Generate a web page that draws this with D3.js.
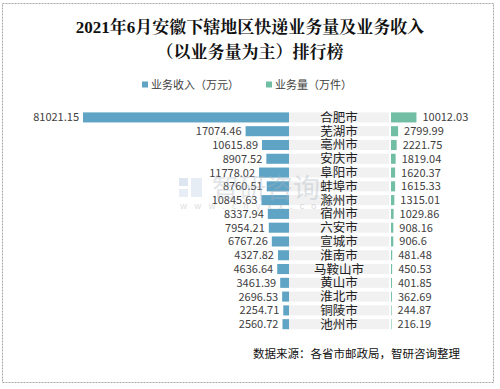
<!DOCTYPE html>
<html>
<head>
<meta charset="utf-8">
<script src="https://cdn.jsdelivr.net/npm/d3@7"></script>
<style>
body { margin: 0; background: #fff; }
svg { display: block; }
</style>
</head>
<body>
<script>
var width = 500;
var height = 389;

var cities = ["合肥市", "芜湖市", "亳州市", "安庆市", "阜阳市", "蚌埠市", "滁州市", "宿州市",
              "六安市", "宣城市", "淮南市", "马鞍山市", "黄山市", "淮北市", "铜陵市", "池州市"];
var revenue = [81021.15, 17074.46, 10615.89, 8907.52, 11778.02, 8760.51, 10845.63, 8337.94,
               7954.21, 6767.26, 4327.82, 4636.64, 3461.39, 2696.53, 2254.71, 2560.72];
var volume = [10012.03, 2799.99, 2221.75, 1819.04, 1620.37, 1615.33, 1315.01, 1029.86,
              908.16, 906.6, 481.48, 450.53, 401.85, 362.69, 244.87, 216.19];
var seriesNames = ["业务收入（万元）", "业务量（万件）"];

var blue = "#5fa4c5", green = "#72bea4";
var font = "'Noto Sans CJK SC', 'Noto Sans', sans-serif";

var svg = d3.select("body").append("svg")
    .attr("width", width)
    .attr("height", height);

// frame
svg.append("rect")
    .attr("x", 2.5).attr("y", 3.5)
    .attr("width", 491).attr("height", 379)
    .style("fill", "#fff")
    .style("stroke", "#a6a6a6")
    .style("stroke-dasharray", "2,1");

// title
var title = svg.append("text")
    .attr("text-anchor", "middle")
    .style("font-family", "'Liberation Serif', 'Noto Serif CJK SC', 'Noto Sans CJK SC', serif")
    .style("font-weight", "bold")
    .style("font-size", "17px")
    .style("fill", "#111");
title.append("tspan").attr("x", 250).attr("y", 33).text("2021年6月安徽下辖地区快递业务量及业务收入");
title.append("tspan").attr("x", 250).attr("y", 58).text("（以业务量为主）排行榜");

// legend
var legend = svg.selectAll(".legend")
    .data(seriesNames)
  .enter().append("g")
    .attr("class", "legend")
    .attr("transform", function (d, i) { return "translate(" + (142 + i * 124) + ",85)"; });
legend.append("rect")
    .attr("y", -3.5).attr("width", 6).attr("height", 6)
    .style("fill", function (d, i) { return i == 0 ? blue : green; });
legend.append("text")
    .attr("x", 9).attr("y", 4)
    .style("font-family", font)
    .style("font-size", "11px")
    .style("fill", "#404040")
    .text(function (d) { return d; });

var y = d3.scaleBand()
    .domain(cities)
    .range([110.6, 331])
    .paddingInner(0.27)
    .paddingOuter(0.13);

var len = d3.scaleLinear()
    .domain([0, d3.max(revenue)])
    .range([0, 206]);

var leftEdge = 289, rightEdge = 391;

var rows = svg.selectAll(".row")
    .data(cities)
  .enter().append("g")
    .attr("class", "row")
    .attr("transform", function (d) { return "translate(0," + y(d) + ")"; });

rows.append("rect")
    .attr("x", leftEdge).attr("width", rightEdge - leftEdge - 2)
    .attr("height", y.bandwidth())
    .style("fill", "#f1f1f1");

rows.append("rect")
    .attr("x", function (d, i) { return leftEdge - len(revenue[i]); })
    .attr("width", function (d, i) { return len(revenue[i]); })
    .attr("height", y.bandwidth())
    .style("fill", blue);

rows.append("rect")
    .attr("x", rightEdge)
    .attr("width", function (d, i) { return len(volume[i]); })
    .attr("height", y.bandwidth())
    .style("fill", green);

// watermark (sits behind the labels)
var wm = svg.append("g").style("opacity", 0.35);
wm.append("rect").attr("x", 179).attr("y", 178).attr("width", 9).attr("height", 8).style("fill", "#9db6d6");
wm.append("rect").attr("x", 191).attr("y", 178).attr("width", 11).attr("height", 19).style("fill", "#b9cde4");
wm.append("rect").attr("x", 179).attr("y", 189).attr("width", 9).attr("height", 8).style("fill", "#b9cde4");
wm.append("text")
    .attr("x", 212).attr("y", 198)
    .style("font-family", font).style("font-size", "27px").style("fill", "#aab4be")
    .text("智研咨询");
wm.append("text")
    .attr("x", 180).attr("y", 209)
    .style("font-family", font).style("font-size", "9px").style("fill", "#a0a0a0")
    .style("letter-spacing", "7px")
    .text("www.chyxx.com");

rows.append("text")
    .attr("x", 339)
    .attr("y", y.bandwidth() / 2 + 4.5)
    .attr("text-anchor", "middle")
    .style("font-family", font)
    .style("font-size", "12.5px")
    .style("fill", "#222")
    .text(function (d) { return d; });

rows.append("text")
    .attr("x", function (d, i) { return leftEdge - len(revenue[i]) - 4; })
    .attr("y", y.bandwidth() / 2 + 4)
    .attr("text-anchor", "end")
    .style("font-family", font)
    .style("font-size", "11px")
    .style("fill", "#404040")
    .text(function (d, i) { return revenue[i]; });

rows.append("text")
    .attr("x", function (d, i) { return rightEdge + len(volume[i]) + 6; })
    .attr("y", y.bandwidth() / 2 + 4)
    .style("font-family", font)
    .style("font-size", "11px")
    .style("fill", "#404040")
    .text(function (d, i) { return volume[i]; });

// source
svg.append("text")
    .attr("x", 253).attr("y", 358)
    .style("font-family", font)
    .style("font-size", "11.5px")
    .style("fill", "#111")
    .text("数据来源：各省市邮政局，智研咨询整理");
</script>
</body>
</html>
